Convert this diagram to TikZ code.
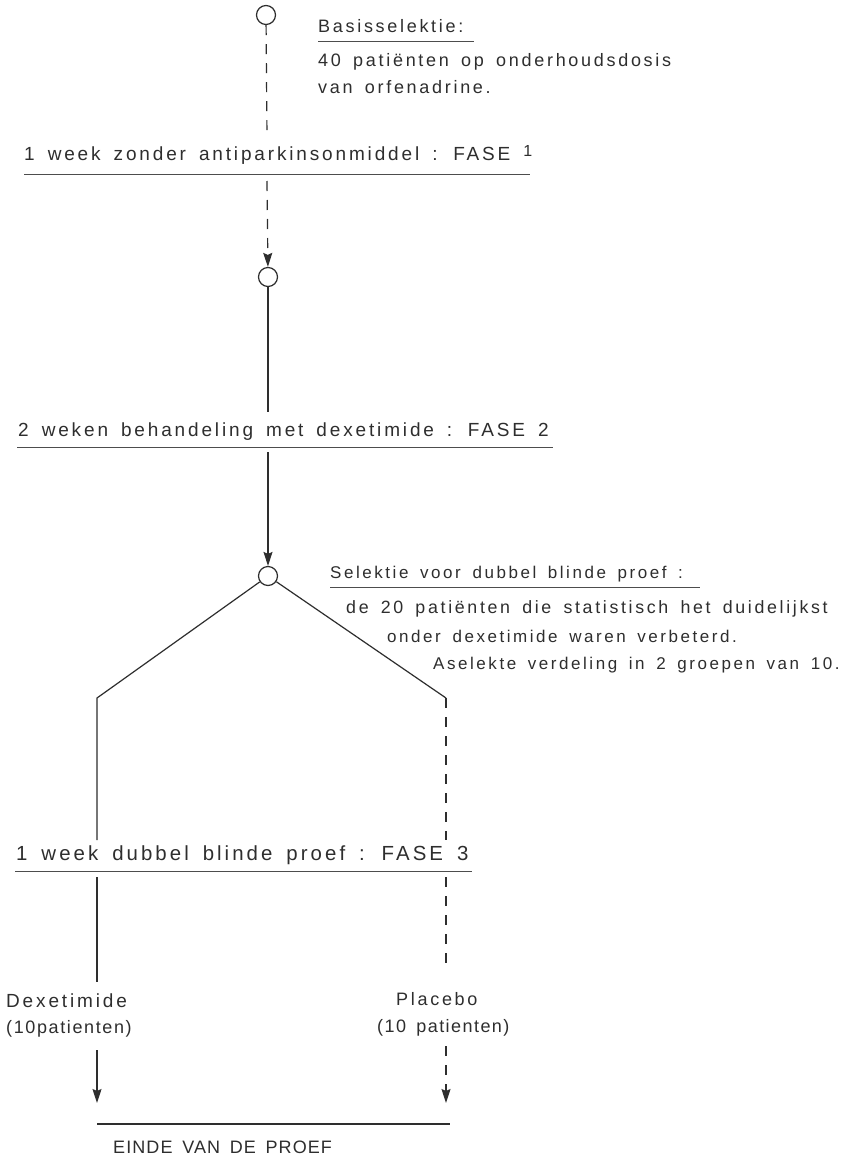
\documentclass[tikz,border=0pt]{standalone}
\usepackage{fontspec}
\setmainfont{Liberation Sans}[LetterSpace=15,WordSpace=1.6]
\usetikzlibrary{arrows.meta}
\definecolor{ink}{HTML}{2E2E2E}
\begin{document}
\begin{tikzpicture}[x=1pt,y=-1pt,
  lbl/.style={anchor=base west,inner sep=0pt,text=ink,font=\fontsize{#1}{#1}\selectfont},
  lbl/.default=18,
  knot/.style={circle,draw=ink,line width=1.2pt,minimum size=19pt,inner sep=0pt},
  solidlink/.style={draw=ink,line width=1.2pt},
  dashlink/.style={draw=ink,line width=1.2pt,dash pattern=on 10pt off 9pt},
  uline/.style={draw=ink!85,line width=0.9pt},
  tip/.style={-{Stealth[length=14pt,width=9pt,inset=2pt]}}]
\path[use as bounding box] (0,0) rectangle (848,1159);
\fill[white] (0,0) rectangle (848,1159);

% top block
\node[knot] (c0) at (266,15) {};
\node[lbl] (basis) at (318,32) {Basisselektie:};
\draw[uline] (318,41) -- (474,41);
\node[lbl] (pat40) at (318,66) {40 patiënten op onderhoudsdosis};
\node[lbl] (orf) at (318,93) {van orfenadrine.};

% phase 1
\coordinate (a1) at (267,138);
\coordinate (a2) at (267,181);
\node[lbl=19] (fase1) at (24,160) {1 week zonder antiparkinsonmiddel : FASE \raisebox{4pt}{\fontsize{16}{16}\selectfont 1}};
\draw[uline] (24,174) -- (530,174);
\node[knot] (c1) at (268,277) {};
\draw[dashlink] (c0) -- (a1);
\draw[dashlink,tip] (a2) -- (c1);

% phase 2
\coordinate (b1) at (268,412);
\coordinate (b2) at (268,452);
\node[lbl=19] (fase2) at (18,436) {2 weken behandeling met dexetimide : FASE 2};
\draw[uline] (17,447) -- (553,447);
\node[knot] (c2) at (268,576) {};
\draw[solidlink] (c1) -- (b1);
\draw[solidlink,tip] (b2) -- (c2);

% selection text
\node[lbl=17] (sel) at (330,578) {Selektie voor dubbel blinde proef :};
\draw[uline] (330,587) -- (700,587);
\node[lbl=17.8] (sel2) at (346,613) {de 20 patiënten die statistisch het duidelijkst};
\node[lbl=17] (sel3) at (387,642) {onder dexetimide waren verbeterd.};
\node[lbl=17] (sel4) at (433,669) {Aselekte verdeling in 2 groepen van 10.};

% split
\coordinate (L) at (97,698);
\coordinate (R) at (446,698);
\coordinate (L1) at (97,840);
\coordinate (R1) at (446,840);
\draw[solidlink] (c2) -- (L) -- (L1);
\draw[solidlink] (c2) -- (R);
\draw[dashlink] (R) -- (R1);

% phase 3
\node[lbl=20.4] (fase3) at (16,860) {1 week dubbel blinde proef : FASE 3};
\draw[uline] (15,871) -- (472,871);
\coordinate (L2) at (97,877);
\coordinate (L3) at (97,982);
\coordinate (R2) at (446,877);
\coordinate (R3) at (446,972);
\draw[solidlink] (L2) -- (L3);
\draw[dashlink] (R2) -- (R3);

% groups
\node[lbl=19] (dex) at (6,1007) {Dexetimide};
\node[lbl] (dexn) at (6,1033) {\addfontfeatures{LetterSpace=9}(10patienten)};
\node[lbl] (plac) at (396,1005) {Placebo};
\node[lbl] (placn) at (377,1032) {\addfontfeatures{LetterSpace=8}(10 patienten)};
\coordinate (L4) at (97,1050);
\coordinate (R4) at (446,1046);
\coordinate (endL) at (97,1103);
\coordinate (endR) at (446,1103);
\coordinate (hl) at (97,1124);
\coordinate (hr) at (450,1124);
\draw[solidlink,tip] (L4) -- (endL);
\draw[dashlink,tip] (R4) -- (endR);
\draw[solidlink] (hl) -- (hr);
\node[lbl] (einde) at (113,1153) {\addfontfeatures{LetterSpace=6}EINDE VAN DE PROEF};
\end{tikzpicture}
\end{document}
